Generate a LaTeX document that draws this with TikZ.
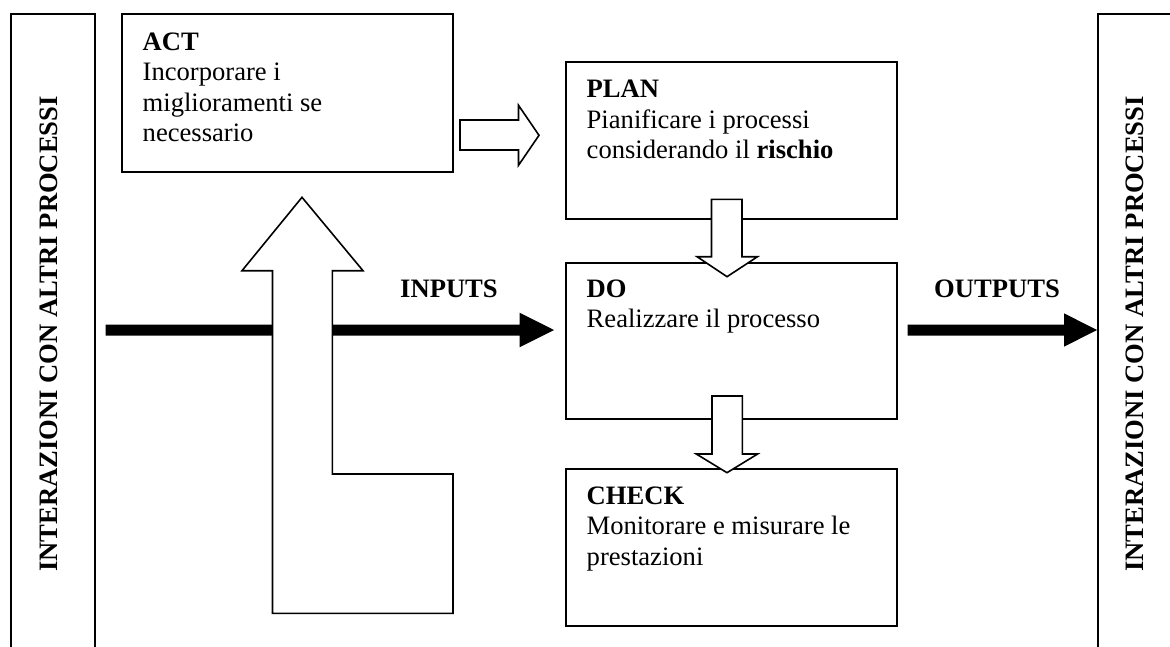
\documentclass[tikz,border=0pt]{standalone}
\usepackage{fontspec}
\setmainfont{Liberation Serif}
\begin{document}
\begin{tikzpicture}[x=1pt,y=-1pt,
  box/.style={draw=black,line width=2pt,fill=white,anchor=north west,inner sep=0pt,outer sep=0pt},
  txt/.style={anchor=base west,inner sep=0pt,outer sep=0pt,font=\fontsize{26.6}{30.5}\selectfont},
  side/.style={anchor=center,rotate=90,inner sep=0pt,font=\fontsize{26.6}{30.5}\selectfont\bfseries},
  lbl/.style={anchor=base west,inner sep=0pt,font=\fontsize{26.6}{30.5}\selectfont\bfseries},
  hollow/.style={draw=black,line width=1.6pt,fill=white,line join=miter},
  thick/.style={fill=black,draw=none}]
\useasboundingbox (0,0) rectangle (1170,646);
\fill[white] (0,0) rectangle (1170,646);
% side boxes
\node[box,minimum width=83.5pt,minimum height=660pt] (left) at (11,14.3) {};
\node[box,minimum width=84pt,minimum height=660pt] (right) at (1098.3,14.3) {};
\node[side] (lefttxt) at (48.5,334) {INTERAZIONI CON ALTRI PROCESSI};
\node[side] (righttxt) at (1134.5,334) {INTERAZIONI CON ALTRI PROCESSI};
% main boxes
\node[box,minimum width=331pt,minimum height=157.4pt] (act) at (122,14.3) {};
\node[box,minimum width=331.4pt,minimum height=156.7pt] (plan) at (566,62.3) {};
\node[box,minimum width=331.4pt,minimum height=156.3pt] (do) at (566,262.7) {};
\node[box,minimum width=331.4pt,minimum height=156.7pt] (check) at (566,469) {};
% box texts
\node[txt] (acttxt) at ([xshift=20.7pt,yshift=-35.7pt]act.north west)
  {\parbox[t]{300pt}{\textbf{ACT}\\Incorporare i\\miglioramenti se\\necessario}};
\node[txt] (plantxt) at ([xshift=20.7pt,yshift=-35.4pt]plan.north west)
  {\parbox[t]{300pt}{\textbf{PLAN}\\Pianificare i processi\\considerando il \textbf{rischio}}};
\node[txt] (dotxt) at ([xshift=20.7pt,yshift=-34.5pt]do.north west)
  {\parbox[t]{300pt}{\textbf{DO}\\Realizzare il processo}};
\node[txt] (checktxt) at ([xshift=20.7pt,yshift=-35.3pt]check.north west)
  {\parbox[t]{300pt}{\textbf{CHECK}\\Monitorare e misurare le\\prestazioni}};
% labels
\node[lbl] (inputs) at (400,297.3) {INPUTS};
\node[lbl] (outputs) at (934,297.7) {OUTPUTS};
% thick arrows
\coordinate (instart) at (105.7,330);
\coordinate (outstart) at (907.5,330);
\fill[thick] (instart) ++(0,-5.5) -- (519.5,324.5) -- (519.5,312.7) -- (554,330)
  -- (519.5,347.3) -- (519.5,335.5) -- (105.7,335.5) -- cycle;
\fill[thick] (outstart) ++(0,-5.5) -- (1064,324.5) -- (1064,313.3) -- (1097,330)
  -- (1064,346.7) -- (1064,335.5) -- (907.5,335.5) -- cycle;
% hollow arrow ACT -> PLAN
\draw[hollow] (460,120) -- (518.5,120) -- (518.5,105.3) -- (539,135.3)
  -- (518.5,165.3) -- (518.5,150) -- (460,150) -- cycle;
% hollow arrow PLAN -> DO
\draw[hollow] (711.5,199.3) -- (742,199.3) -- (742,256.7) -- (757.5,256.7) -- (727,276.7)
  -- (697,256.7) -- (711.5,256.7) -- cycle;
% hollow arrow DO -> CHECK
\draw[hollow] (712,396) -- (742.3,396) -- (742.3,454) -- (757.6,454) -- (727,472.7)
  -- (696.3,454) -- (712,454) -- cycle;
% L-shaped up arrow CHECK -> ACT
\draw[hollow] (302,197.3) -- (363,270.7) -- (332.4,270.7) -- (332.4,474) -- (453,474)
  -- (453,613.3) -- (272.5,613.3) -- (272.5,270.7) -- (242,270.7) -- cycle;
\end{tikzpicture}
\end{document}
